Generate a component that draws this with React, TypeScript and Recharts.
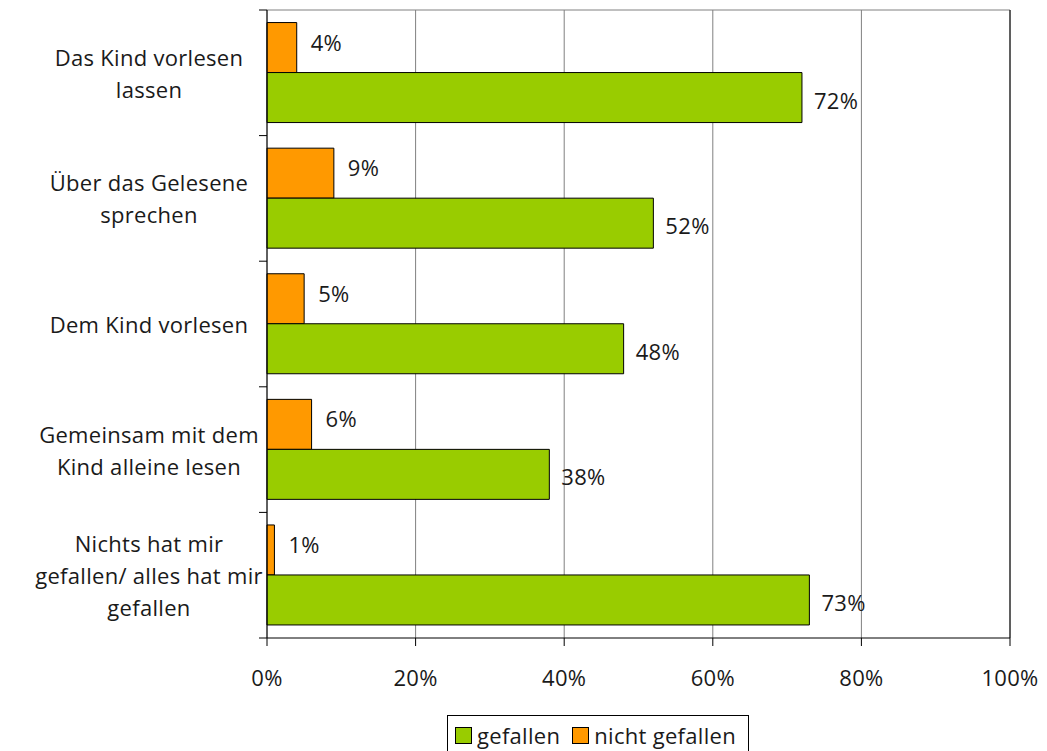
import { BarChart, Bar, XAxis, YAxis, CartesianGrid, LabelList, ReferenceLine } from 'recharts'

const categories = [
  'Das Kind vorlesen lassen',
  'Über das Gelesene sprechen',
  'Dem Kind vorlesen',
  'Gemeinsam mit dem Kind alleine lesen',
  'Nichts hat mir gefallen/ alles hat mir gefallen',
]
const categoryLines = [
  ['Das Kind vorlesen', 'lassen'],
  ['Über das Gelesene', 'sprechen'],
  ['Dem Kind vorlesen'],
  ['Gemeinsam mit dem', 'Kind alleine lesen'],
  ['Nichts hat mir', 'gefallen/ alles hat mir', 'gefallen'],
]
const gefallen = [72, 52, 48, 38, 73]
const nichtGefallen = [4, 9, 5, 6, 1]
const xTicks = [0, 20, 40, 60, 80, 100]
const seriesNames = ['gefallen', 'nicht gefallen']

const GREEN = '#99cc00'
const ORANGE = '#ff9900'
const FONT = '"Open Sans", sans-serif'
const TEXT = '#1a1a1a'
const FS = 22
const LS = 0.3

const W = 1047
const H = 751
const TOP = 10
const PLOT_H = 628
const BAND = PLOT_H / categories.length

const data = categories.map((name, i) => ({
  name,
  gefallen: gefallen[i],
  nicht: nichtGefallen[i],
}))

function CategoryTick(props: any) {
  const { y, index } = props
  const lines = categoryLines[index] || []
  const lh = 32
  const startY = y - ((lines.length - 1) * lh) / 2
  return (
    <g>
      <line x1={259} x2={267} y1={y - BAND / 2} y2={y - BAND / 2} stroke="#000" />
      {index === categories.length - 1 && (
        <line x1={259} x2={267} y1={y + BAND / 2} y2={y + BAND / 2} stroke="#000" />
      )}
      {lines.map((l: string, i: number) => (
        <text
          key={i}
          x={149}
          y={startY + i * lh}
          textAnchor="middle"
          dominantBaseline="central"
          fill={TEXT}
          fontSize={FS}
          letterSpacing={LS}
          fontFamily={FONT}
        >
          {l}
        </text>
      ))}
    </g>
  )
}

const makeLabel = (dx: number, dy: number) => (props: any) => {
  const { x, y, width, height, value } = props
  return (
    <text
      x={x + width + dx}
      y={y + height / 2 + dy}
      dominantBaseline="central"
      fill={TEXT}
      fontSize={FS}
      letterSpacing={LS}
      fontFamily={FONT}
    >
      {value}%
    </text>
  )
}

export default function App() {
  return (
    <div style={{ position: 'absolute', left: 0, top: 0, width: W, height: H, background: '#fff', fontFamily: FONT }}>
      <BarChart
        width={W}
        height={H}
        data={data}
        layout="vertical"
        margin={{ top: TOP, right: 37, left: 0, bottom: 63 }}
        barCategoryGap="10%"
        barGap={0}
      >
        <CartesianGrid horizontal={true} horizontalPoints={[TOP]} vertical={true} stroke="#808080" strokeWidth={1} />
        <XAxis
          type="number"
          domain={[0, 100]}
          ticks={xTicks}
          tickFormatter={(v: number) => `${v}%`}
          height={50}
          tickSize={8}
          tickMargin={24}
          axisLine={{ stroke: '#000' }}
          tickLine={{ stroke: '#000' }}
          tick={{ fill: TEXT, fontSize: FS, fontFamily: FONT, letterSpacing: LS }}
        />
        <YAxis
          type="category"
          dataKey="name"
          width={267}
          axisLine={{ stroke: '#000' }}
          tickLine={false}
          tick={<CategoryTick />}
          interval={0}
        />
        <Bar dataKey="nicht" fill={ORANGE} stroke="#000" strokeWidth={1} isAnimationActive={false}>
          <LabelList dataKey="nicht" content={makeLabel(14, -6)} />
        </Bar>
        <Bar dataKey="gefallen" fill={GREEN} stroke="#000" strokeWidth={1} isAnimationActive={false}>
          <LabelList dataKey="gefallen" content={makeLabel(12, 2)} />
        </Bar>
        <ReferenceLine x={100} stroke="#000" />
      </BarChart>
      <div
        style={{
          position: 'absolute',
          left: 447,
          top: 715,
          width: 302,
          height: 40,
          border: '1px solid #000',
          boxSizing: 'border-box',
          display: 'flex',
          alignItems: 'center',
          paddingLeft: 7,
          fontSize: FS,
          letterSpacing: LS,
          color: TEXT,
          whiteSpace: 'nowrap',
        }}
      >
        {seriesNames.map((s, i) => (
          <span key={s} style={{ display: 'flex', alignItems: 'center', marginRight: 12 }}>
            <span
              style={{
                display: 'inline-block',
                width: 15,
                height: 15,
                background: i === 0 ? GREEN : ORANGE,
                border: '1px solid #000',
                marginRight: 5,
              }}
            />
            {s}
          </span>
        ))}
      </div>
    </div>
  )
}
